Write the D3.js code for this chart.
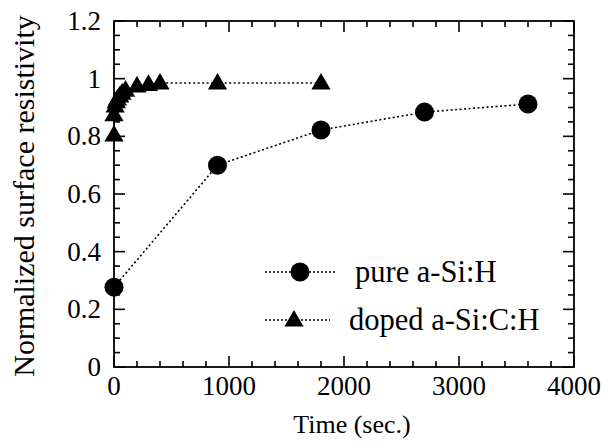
<!DOCTYPE html>
<html>
<head>
<meta charset="utf-8">
<script src="https://cdn.jsdelivr.net/npm/d3@7"></script>
<style>
  body { margin: 0; background: #fff; }
  svg { display: block; }
  text { font-family: "Liberation Serif", "Times New Roman", serif; fill: #000; }
</style>
</head>
<body>
<svg width="609" height="446"></svg>
<script>
// Data
const pureTime = [0, 900, 1800, 2700, 3600];
const pureValue = [0.277, 0.70, 0.822, 0.884, 0.912];

const dopedTime = [0, 0, 10, 20, 30, 50, 70, 100, 200, 300, 400, 900, 1800];
const dopedValue = [0.805, 0.875, 0.905, 0.92, 0.93, 0.94, 0.95, 0.96, 0.975, 0.98, 0.985, 0.985, 0.985];

const xTicks = [0, 1000, 2000, 3000, 4000];
const yTicks = [0, 0.2, 0.4, 0.6, 0.8, 1, 1.2];
const legendLabels = ["pure a-Si:H", "doped a-Si:C:H"];

// Dimensioner
const margin = { top: 21, right: 35, bottom: 79, left: 114 };
const width = 609, height = 446;

const svg = d3.select("svg");

const x = d3.scaleLinear().domain([0, 4000]).range([margin.left, width - margin.right]);
const y = d3.scaleLinear().domain([0, 1.2]).range([height - margin.bottom, margin.top]);

const x0 = x.range()[0], x1 = x.range()[1];
const y0 = y.range()[0], y1 = y.range()[1];

// Ticks indad paa alle fire sider
const xMinor = d3.range(0, 4001, 200);
const yMinor = d3.range(0, 1.2001, 0.05);
const isMajorX = v => Math.abs(v % 1000) < 1e-6;
const isMajorY = v => Math.abs(Math.round(v * 5) - v * 5) < 1e-6;

const tickG = svg.append("g").attr("stroke", "#000").attr("stroke-width", 1.6);
xMinor.forEach(v => {
  const len = isMajorX(v) ? 11 : 6;
  tickG.append("line").attr("x1", x(v)).attr("x2", x(v)).attr("y1", y0).attr("y2", y0 - len);
  tickG.append("line").attr("x1", x(v)).attr("x2", x(v)).attr("y1", y1).attr("y2", y1 + len);
});
yMinor.forEach(v => {
  const len = isMajorY(v) ? 11 : 6;
  tickG.append("line").attr("x1", x0).attr("x2", x0 + len).attr("y1", y(v)).attr("y2", y(v));
  tickG.append("line").attr("x1", x1).attr("x2", x1 - len).attr("y1", y(v)).attr("y2", y(v));
});

// Ramme
svg.append("rect")
  .attr("x", x0).attr("y", y1)
  .attr("width", x1 - x0).attr("height", y0 - y1)
  .attr("fill", "none").attr("stroke", "#000").attr("stroke-width", 1.8);

// Tick labels
svg.append("g").selectAll("text").data(xTicks).join("text")
  .attr("x", d => x(d)).attr("y", y0 + 28)
  .attr("text-anchor", "middle")
  .attr("font-size", 27)
  .text(d => d);

svg.append("g").selectAll("text").data(yTicks).join("text")
  .attr("x", x0 - 13).attr("y", d => y(d) + 9)
  .attr("text-anchor", "end")
  .attr("font-size", 27)
  .text(d => d);

// Akse-titler
svg.append("text")
  .attr("x", (x0 + x1) / 2 + 8).attr("y", 433)
  .attr("text-anchor", "middle").attr("font-size", 26)
  .text("Time (sec.)");

svg.append("text")
  .attr("transform", "translate(34,196) rotate(-90)")
  .attr("text-anchor", "middle").attr("font-size", 30)
  .text("Normalized surface resistivity");

// Linjer
const pure = pureTime.map((t, i) => ({ t, v: pureValue[i] }));
const doped = dopedTime.map((t, i) => ({ t, v: dopedValue[i] }));

const line = d3.line().x(d => x(d.t)).y(d => y(d.v));

[pure, doped].forEach(series => {
  svg.append("path")
    .datum(series)
    .attr("d", line)
    .attr("fill", "none")
    .attr("stroke", "#000")
    .attr("stroke-width", 1.6)
    .attr("stroke-dasharray", "2,2.5");
});

// Markoerer
const triangle = d3.symbol().type(d3.symbolTriangle).size(160);

svg.append("g").selectAll("circle").data(pure).join("circle")
  .attr("cx", d => x(d.t)).attr("cy", d => y(d.v))
  .attr("r", 9.5).attr("fill", "#000");

svg.append("g").selectAll("path").data(doped).join("path")
  .attr("d", triangle)
  .attr("transform", d => `translate(${x(d.t)},${y(d.v) + 1})`)
  .attr("fill", "#000");

// Legende
const legend = svg.append("g");
const legendRows = [272, 320];
legendLabels.forEach((label, i) => {
  const ly = legendRows[i];
  legend.append("line")
    .attr("x1", 265).attr("x2", i === 0 ? 335 : 330)
    .attr("y1", ly).attr("y2", ly)
    .attr("stroke", "#000").attr("stroke-width", 1.4)
    .attr("stroke-dasharray", "2,2");
  if (i === 0) {
    legend.append("circle").attr("cx", 300).attr("cy", ly).attr("r", 9.5).attr("fill", "#000");
  } else {
    legend.append("path").attr("d", triangle)
      .attr("transform", `translate(294,${ly + 1})`).attr("fill", "#000");
  }
  legend.append("text")
    .attr("x", i === 0 ? 355 : 349).attr("y", ly + 10)
    .attr("font-size", 30.5)
    .text(label);
});
</script>
</body>
</html>
